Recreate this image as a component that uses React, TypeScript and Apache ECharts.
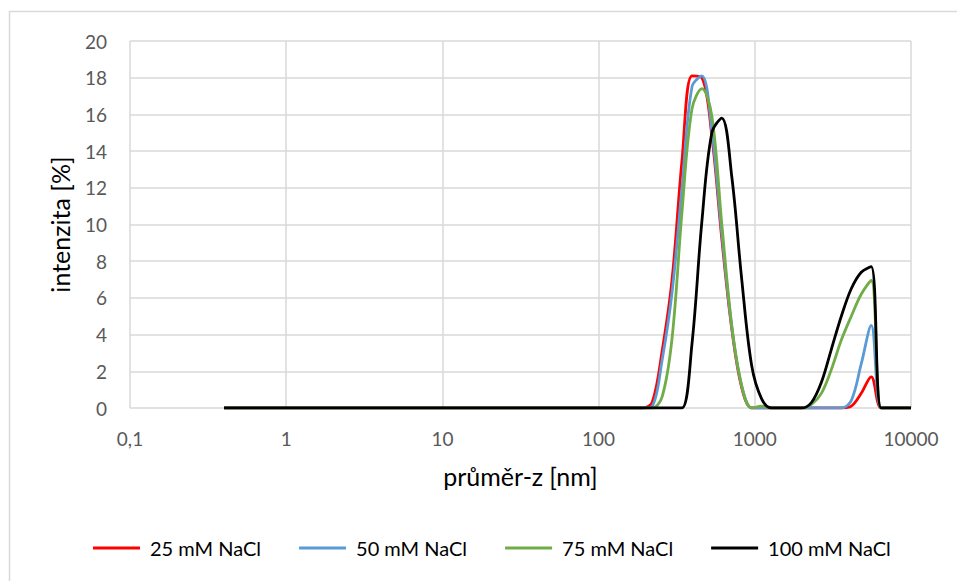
import React, { useEffect, useRef } from "react";
import * as echarts from "echarts";

const sizes: number[] = [
  0.4, 0.4632, 0.5365, 0.6213, 0.7195, 0.8332, 0.9649, 1.117, 1.294, 1.499,
  1.736, 2.01, 2.328, 2.696, 3.122, 3.615, 4.187, 4.849, 5.615, 6.503,
  7.531, 8.721, 10.1, 11.7, 13.54, 15.69, 18.17, 21.04, 24.36, 28.21,
  32.67, 37.84, 43.82, 50.75, 58.77, 68.06, 78.82, 91.28, 105.7, 122.4,
  141.8, 164.2, 190.1, 220.2, 255, 295.3, 342, 396.1, 458.7, 531.2,
  615.1, 712.4, 825, 955.4, 1106, 1281, 1484, 1718, 1990, 2305,
  2669, 3091, 3580, 4145, 4801, 5560, 6439, 7456, 8635, 10000,
];

// first 43 bins (0.4 ... 190.1 nm) are zero for every series
const zeros43: number[] = new Array(43).fill(0);

const nacl25Tail: number[] = [
  0.3, 3.1, 7.0, 13.5, 18.1, 18.0, 14.8, 9.2, 4.3, 1.1,
  0, 0, 0, 0, 0, 0, 0, 0, 0, 0,
  0.1, 0.8, 1.7, 0, 0, 0, 0,
];
const nacl50Tail: number[] = [
  0.1, 2.6, 6.3, 12.0, 17.5, 18.1, 15.1, 9.5, 4.4, 1.2,
  0, 0, 0, 0, 0, 0, 0, 0, 0, 0,
  0.4, 2.4, 4.5, 0, 0, 0, 0,
];
const nacl75Tail: number[] = [
  0, 0.6, 3.8, 10.7, 16.3, 17.4, 15.9, 10.0, 4.5, 1.2,
  0, 0.1, 0, 0, 0, 0, 0.2, 0.8, 2.1, 3.7,
  5.0, 6.2, 6.95, 0, 0, 0, 0,
];
const nacl100Tail: number[] = [
  0, 0, 0, 0, 3.5, 10.2, 15.0, 15.8, 12.6, 7.0,
  2.3, 0.5, 0, 0, 0, 0, 0.3, 1.4, 3.2, 5.0,
  6.5, 7.4, 7.7, 0, 0, 0, 0,
];

const seriesNames: string[] = ["25 mM NaCl", "50 mM NaCl", "75 mM NaCl", "100 mM NaCl"];
const seriesColors: string[] = ["#FF0000", "#5B9BD5", "#70AD47", "#000000"];
const seriesValues: number[][] = [
  zeros43.concat(nacl25Tail),
  zeros43.concat(nacl50Tail),
  zeros43.concat(nacl75Tail),
  zeros43.concat(nacl100Tail),
];

const FONT = "Lato";

export default function App() {
  const ref = useRef<HTMLDivElement>(null);
  useEffect(() => {
    document.body.style.margin = "0";
    if (!ref.current) return;
    const chart = echarts.init(ref.current, null, { renderer: "svg" });
    chart.setOption({
      animation: false,
      backgroundColor: "#ffffff",
      graphic: [
        {
          type: "rect",
          shape: { x: 9.5, y: 11.5, width: 1100, height: 1100 },
          style: { fill: "none", stroke: "#d9d9d9", lineWidth: 1.5 },
          silent: true,
        },
      ],
      grid: { left: 130, right: 46, top: 41, bottom: 173 },
      legend: {
        left: 88,
        top: 533,
        icon: "rect",
        itemWidth: 47,
        itemHeight: 3,
        itemGap: 38,
        data: seriesNames,
        textStyle: {
          fontFamily: FONT,
          fontSize: 20,
          color: "#000000",
          padding: [0, 0, 0, 5],
        },
      },
      xAxis: {
        type: "log",
        logBase: 10,
        min: 0.1,
        max: 10000,
        name: "průměr-z [nm]",
        nameLocation: "middle",
        nameGap: 55,
        nameMoveOverlap: false,
        nameTextStyle: { fontFamily: FONT, fontSize: 25, color: "#000000" },
        axisLine: { show: false },
        axisTick: { show: false },
        minorTick: { show: false },
        splitLine: { show: true, lineStyle: { color: "#d9d9d9", width: 1.5 } },
        axisLabel: {
          fontFamily: FONT,
          fontSize: 19,
          color: "#595959",
          margin: 21,
          formatter: (v: number) => {
            const n = Number(v);
            return n < 1 ? n.toFixed(1).replace(".", ",") : String(Math.round(n));
          },
        },
      },
      yAxis: {
        type: "value",
        min: 0,
        max: 20,
        interval: 2,
        name: "intenzita [%]",
        nameLocation: "middle",
        nameGap: 58,
        nameMoveOverlap: false,
        nameTextStyle: { fontFamily: FONT, fontSize: 25, color: "#000000" },
        axisLine: { show: false },
        axisTick: { show: false },
        splitLine: { show: true, lineStyle: { color: "#d9d9d9", width: 1.5 } },
        axisLabel: {
          fontFamily: FONT,
          fontSize: 19,
          color: "#595959",
          margin: 23,
        },
      },
      series: seriesNames.map((name, i) => ({
        name,
        type: "line",
        data: sizes.map((s, j) => [s, seriesValues[i][j]]),
        smooth: 0.35,
        showSymbol: false,
        symbol: "none",
        color: seriesColors[i],
        lineStyle: { color: seriesColors[i], width: 2.8 },
      })),
    });
    return () => chart.dispose();
  }, []);
  return <div ref={ref} style={{ width: 957, height: 581 }} />;
}
